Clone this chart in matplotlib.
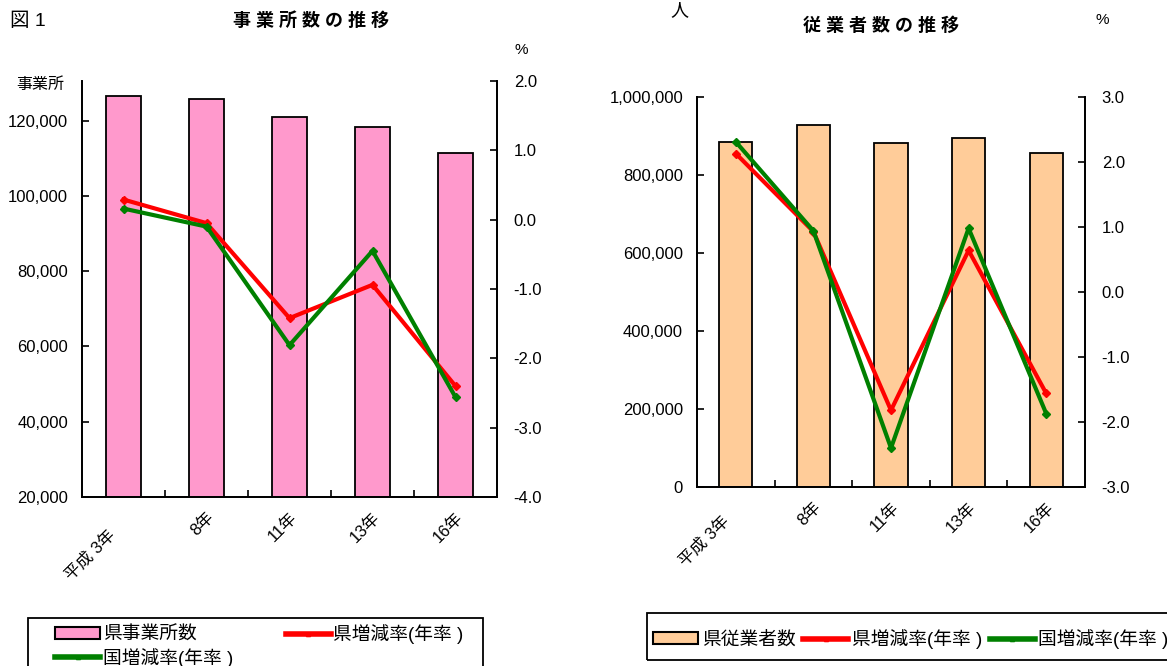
import matplotlib
matplotlib.use("Agg")
import matplotlib.pyplot as plt
from matplotlib.patches import Patch, Rectangle
from matplotlib.lines import Line2D
import matplotlib.transforms as mtransforms
import numpy as np

plt.rcParams['font.family'] = ['Liberation Sans', 'Noto Sans CJK JP']

# ---- data ----
categories = ["平成 3年", "8年", "11年", "13年", "16年"]
establishments = [126400, 125850, 121000, 118400, 111500]
est_pref_rate = [0.29, -0.05, -1.42, -0.94, -2.40]
est_nation_rate = [0.16, -0.10, -1.81, -0.45, -2.56]

employees = [885000, 928000, 881000, 896000, 856000]
emp_pref_rate = [2.13, 0.93, -1.82, 0.64, -1.56]
emp_nation_rate = [2.31, 0.94, -2.40, 0.98, -1.87]

left_ticks = [20000, 40000, 60000, 80000, 100000, 120000]
left_rate_ticks = [-4.0, -3.0, -2.0, -1.0, 0.0, 1.0, 2.0]
right_ticks = [0, 200000, 400000, 600000, 800000, 1000000]
right_rate_ticks = [-3.0, -2.0, -1.0, 0.0, 1.0, 2.0, 3.0]

W, H = 1167, 666
fig = plt.figure(figsize=(W / 100, H / 100), dpi=100)


def fx(px):
    return px / W


def fy(py):
    return 1 - py / H


PINK = '#FF99CC'
ORANGE = '#FFCC99'
RED = '#FF0000'
GREEN = '#008000'
TICKFS = 12


def make_chart(rect, bars, bar_color, bar_ticks, bar_lim, rate1, rate2,
               rate_ticks, rate_lim, label_shift):
    ax = fig.add_axes(rect)
    x = np.arange(len(categories))
    ax.bar(x, bars, width=0.43, color=bar_color, edgecolor='black',
           linewidth=1.3, zorder=2)
    ax.set_xlim(-0.5, len(categories) - 0.5)
    ax.set_ylim(*bar_lim)
    ax.set_yticks(bar_ticks)
    ax.set_yticklabels([f"{v:,}" for v in bar_ticks], fontsize=TICKFS)
    ax.tick_params(axis='y', direction='in', length=5, width=1.2, pad=10)
    ax.set_xticks(x)
    ax.set_xticklabels(categories, fontsize=TICKFS, rotation=45,
                       ha='right', va='top', rotation_mode='anchor')
    ax.tick_params(axis='x', which='major', length=0, pad=9)
    ax.set_xticks(np.arange(0.5, len(categories) - 0.5, 1.0), minor=True)
    ax.tick_params(axis='x', which='minor', direction='in', length=5,
                   width=1.2)
    for s in ['left', 'bottom', 'right']:
        ax.spines[s].set_linewidth(1.3)
    ax.spines['top'].set_visible(False)

    ax2 = ax.twinx()
    ax2.plot(x, rate1, color=RED, lw=3, marker='D', ms=4.5, zorder=3)
    ax2.plot(x, rate2, color=GREEN, lw=3, marker='D', ms=4.5, zorder=4)
    ax2.set_ylim(*rate_lim)
    ax2.set_yticks(rate_ticks)
    ax2.set_yticklabels([f"{v:.1f}" for v in rate_ticks], fontsize=TICKFS)
    ax2.tick_params(axis='y', direction='in', length=5, width=1.2, pad=12)
    ax2.spines['top'].set_visible(False)
    for s in ['left', 'bottom', 'right']:
        ax2.spines[s].set_linewidth(1.3)

    lab = ax.get_xticklabels()[0]
    off = mtransforms.ScaledTranslation(label_shift[0] / 100,
                                        label_shift[1] / 100,
                                        fig.dpi_scale_trans)
    lab.set_transform(lab.get_transform() + off)
    return ax, ax2


# left chart
make_chart([fx(82), fy(497), fx(497) - fx(82), fy(81) - fy(497)],
           establishments, PINK, left_ticks, (20000, 130500),
           est_pref_rate, est_nation_rate, left_rate_ticks, (-4.0, 2.0),
           (-16, -18))

# right chart
make_chart([fx(697), fy(487), fx(1085) - fx(697), fy(97) - fy(487)],
           employees, ORANGE, right_ticks, (0, 1000000),
           emp_pref_rate, emp_nation_rate, right_rate_ticks, (-3.0, 3.0),
           (-14, -14))

# texts
fig.text(fx(10), fy(21), "図 1", fontsize=14, ha='left', va='center')
fig.text(fx(311), fy(21), "事 業 所 数 の 推 移", fontsize=13,
         fontweight='bold', ha='center', va='center')
fig.text(fx(40), fy(84), "事業所", fontsize=11.5, ha='center', va='center')
fig.text(fx(521), fy(50), "%", fontsize=11, ha='center', va='center')
fig.text(fx(881), fy(26), "従 業 者 数 の 推 移", fontsize=13,
         fontweight='bold', ha='center', va='center')
fig.text(fx(679), fy(11), "人", fontsize=13, ha='center', va='center')
fig.text(fx(1102), fy(20), "%", fontsize=11, ha='center', va='center')

LEGFS = 13.5

# left legend
fig.patches.append(Rectangle((fx(28), fy(672)), fx(483) - fx(28),
                             fy(618) - fy(672), transform=fig.transFigure,
                             fill=False, edgecolor='black', lw=1.3))
h_bar = Patch(facecolor=PINK, edgecolor='black', lw=1.5)
h_red = Line2D([], [], color=RED, lw=4, marker='^', ms=3)
h_green = Line2D([], [], color=GREEN, lw=4, marker='^', ms=3)
fig.legend([h_bar, h_green, h_red],
           ["県事業所数", "国増減率(年率 )", "県増減率(年率 )"],
           loc='upper left', bbox_to_anchor=(fx(55), fy(624)), ncol=2,
           frameon=False, fontsize=LEGFS, handlelength=2.4,
           handletextpad=0.15, columnspacing=2.8, labelspacing=0.2,
           borderpad=0, borderaxespad=0, handleheight=0.6)

# right legend
fig.patches.append(Rectangle((fx(647), fy(660)), fx(1172) - fx(647),
                             fy(613) - fy(660), transform=fig.transFigure,
                             fill=False, edgecolor='black', lw=1.3))
h_bar2 = Patch(facecolor=ORANGE, edgecolor='black', lw=1.5)
fig.legend([h_bar2, h_red, h_green],
           ["県従業者数", "県増減率(年率 )", "国増減率(年率 )"],
           loc='upper left', bbox_to_anchor=(fx(653), fy(629)), ncol=3,
           frameon=False, fontsize=LEGFS, handlelength=2.4,
           handletextpad=0.2, columnspacing=0.4,
           borderpad=0, borderaxespad=0, handleheight=0.6)

fig.savefig("out.png", dpi=100)
